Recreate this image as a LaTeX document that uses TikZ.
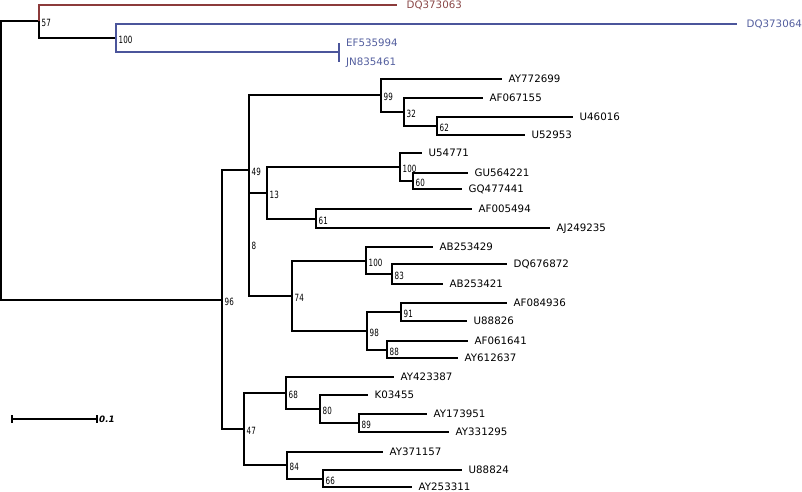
\documentclass[tikz,border=0pt]{standalone}
\usepackage{fontspec}
\newfontfamily\leaffont{DejaVu Sans}
\newfontfamily\supfont{DejaVu Sans Condensed}
\definecolor{cladered}{HTML}{8C3B3B}
\definecolor{cladeblue}{HTML}{4B559B}
\definecolor{redtext}{HTML}{8A4848}
\definecolor{bluetext}{HTML}{535E9E}
\tikzset{
  branch/.style={line width=2.3bp, draw=black, line join=miter},
  redbranch/.style={branch, draw=cladered},
  bluebranch/.style={branch, draw=cladeblue},
  leaflabel/.style={anchor=west, inner sep=0pt, xshift=6.5bp, text height=7.5bp, text depth=0pt,
    font=\leaffont\fontsize{10.3}{10.3}\selectfont},
  suplabel/.style={anchor=west, inner sep=0pt, xshift=2.5bp, yshift=-1.5bp, text height=7.2pt, text depth=0pt,
    font=\supfont\fontsize{10}{10}\selectfont},
}
\newcommand{\supval}[2]{\node[suplabel] (l#1) at (#1) {\scalebox{0.8}[1]{#2}};}
\begin{document}
\begin{tikzpicture}[x=1bp,y=-1bp]
\useasboundingbox (0,0) rectangle (802,492);
% internal nodes
\coordinate (r) at (1,160);
\coordinate (n57) at (39,21);
\coordinate (n100a) at (116,38);
\coordinate (nEF) at (339,52);
\coordinate (n96) at (222,300);
\coordinate (n49) at (249,170);
\coordinate (n99) at (381,95);
\coordinate (n32) at (404,112);
\coordinate (n62) at (437,126);
\coordinate (n8) at (249,244);
\coordinate (n13) at (267,193);
\coordinate (n100b) at (400,167);
\coordinate (n60) at (413,181);
\coordinate (n61) at (316,219);
\coordinate (n74) at (292,296);
\coordinate (n100c) at (366,261);
\coordinate (n83) at (392,274);
\coordinate (n98) at (367,331);
\coordinate (n91) at (401,312);
\coordinate (n88) at (387,350);
\coordinate (n47) at (244,429);
\coordinate (n68) at (286,393);
\coordinate (n80) at (320,409);
\coordinate (n89) at (359,423);
\coordinate (n84) at (287,465);
\coordinate (n66) at (323,479);
% leaf tips
\coordinate (tDQ373063) at (397,5);
\coordinate (tDQ373064) at (737,24);
\coordinate (tEF535994) at (339,43);
\coordinate (tJN835461) at (339,62);
\coordinate (tAY772699) at (502,79);
\coordinate (tAF067155) at (483,98);
\coordinate (tU46016) at (573,117);
\coordinate (tU52953) at (525,135);
\coordinate (tU54771) at (422,153);
\coordinate (tGU564221) at (468,173);
\coordinate (tGQ477441) at (462,189);
\coordinate (tAF005494) at (472,209);
\coordinate (tAJ249235) at (550,228);
\coordinate (tAB253429) at (433,247);
\coordinate (tDQ676872) at (507,264);
\coordinate (tAB253421) at (443,284);
\coordinate (tAF084936) at (507,303);
\coordinate (tU88826) at (467,321);
\coordinate (tAF061641) at (468,341);
\coordinate (tAY612637) at (458,358);
\coordinate (tAY423387) at (394,377);
\coordinate (tK03455) at (368,395);
\coordinate (tAY173951) at (427,414);
\coordinate (tAY331295) at (449,432);
\coordinate (tAY371157) at (383,452);
\coordinate (tU88824) at (462,470);
\coordinate (tAY253311) at (412,487);
% branches
\draw[branch] (r) |- (n57);
\draw[branch] (r) |- (n96);
\draw[redbranch] (n57) |- (tDQ373063);
\draw[branch] (n57) |- (n100a);
\draw[bluebranch] (n100a) |- (tDQ373064);
\draw[bluebranch] (n100a) |- (nEF);
\draw[bluebranch] (nEF) |- (tEF535994);
\draw[bluebranch] (nEF) |- (tJN835461);
\draw[branch] (n96) |- (n49);
\draw[branch] (n96) |- (n47);
\draw[branch] (n49) |- (n99);
\draw[branch] (n49) |- (n8);
\draw[branch] (n99) |- (tAY772699);
\draw[branch] (n99) |- (n32);
\draw[branch] (n32) |- (tAF067155);
\draw[branch] (n32) |- (n62);
\draw[branch] (n62) |- (tU46016);
\draw[branch] (n62) |- (tU52953);
\draw[branch] (n8) |- (n13);
\draw[branch] (n8) |- (n74);
\draw[branch] (n13) |- (n100b);
\draw[branch] (n13) |- (n61);
\draw[branch] (n100b) |- (tU54771);
\draw[branch] (n100b) |- (n60);
\draw[branch] (n60) |- (tGU564221);
\draw[branch] (n60) |- (tGQ477441);
\draw[branch] (n61) |- (tAF005494);
\draw[branch] (n61) |- (tAJ249235);
\draw[branch] (n74) |- (n100c);
\draw[branch] (n74) |- (n98);
\draw[branch] (n100c) |- (tAB253429);
\draw[branch] (n100c) |- (n83);
\draw[branch] (n83) |- (tDQ676872);
\draw[branch] (n83) |- (tAB253421);
\draw[branch] (n98) |- (n91);
\draw[branch] (n98) |- (n88);
\draw[branch] (n91) |- (tAF084936);
\draw[branch] (n91) |- (tU88826);
\draw[branch] (n88) |- (tAF061641);
\draw[branch] (n88) |- (tAY612637);
\draw[branch] (n47) |- (n68);
\draw[branch] (n47) |- (n84);
\draw[branch] (n68) |- (tAY423387);
\draw[branch] (n68) |- (n80);
\draw[branch] (n80) |- (tK03455);
\draw[branch] (n80) |- (n89);
\draw[branch] (n89) |- (tAY173951);
\draw[branch] (n89) |- (tAY331295);
\draw[branch] (n84) |- (tAY371157);
\draw[branch] (n84) |- (n66);
\draw[branch] (n66) |- (tU88824);
\draw[branch] (n66) |- (tAY253311);
% leaf labels
\node[leaflabel, text=redtext, xshift=3bp] (lDQ373063) at (tDQ373063) {DQ373063};
\node[leaflabel, text=bluetext, xshift=3bp] (lDQ373064) at (tDQ373064) {DQ373064};
\node[leaflabel, text=bluetext, xshift=0.5bp] (lEF535994) at (tEF535994) {EF535994};
\node[leaflabel, text=bluetext, xshift=0.5bp] (lJN835461) at (tJN835461) {JN835461};
\foreach \t in {AY772699,AF067155,U46016,U52953,U54771,GU564221,GQ477441,AF005494,AJ249235,
  AB253429,DQ676872,AB253421,AF084936,U88826,AF061641,AY612637,AY423387,K03455,AY173951,
  AY331295,AY371157,U88824,AY253311}
  \node[leaflabel] (l\t) at (t\t) {\t};
% support values
\supval{n57}{57}
\supval{n100a}{100}
\supval{n96}{96}
\supval{n49}{49}
\supval{n99}{99}
\supval{n32}{32}
\supval{n62}{62}
\supval{n8}{8}
\supval{n13}{13}
\supval{n100b}{100}
\supval{n60}{60}
\supval{n61}{61}
\supval{n74}{74}
\supval{n100c}{100}
\supval{n83}{83}
\supval{n98}{98}
\supval{n91}{91}
\supval{n88}{88}
\supval{n47}{47}
\supval{n68}{68}
\supval{n80}{80}
\supval{n89}{89}
\supval{n84}{84}
\supval{n66}{66}
% scale bar
\coordinate (sbA) at (12,419);
\coordinate (sbB) at (97,419);
\draw[line width=2bp] (sbA) -- (sbB);
\draw[line width=2bp] ([yshift=4bp]sbA) -- ([yshift=-4bp]sbA);
\draw[line width=2bp] ([yshift=4bp]sbB) -- ([yshift=-4bp]sbB);
\node[anchor=west, inner sep=0pt, xshift=2bp, font=\leaffont\bfseries\itshape\fontsize{8.8}{8.8}\selectfont] (sblabel) at (sbB) {0.1};
\end{tikzpicture}
\end{document}
